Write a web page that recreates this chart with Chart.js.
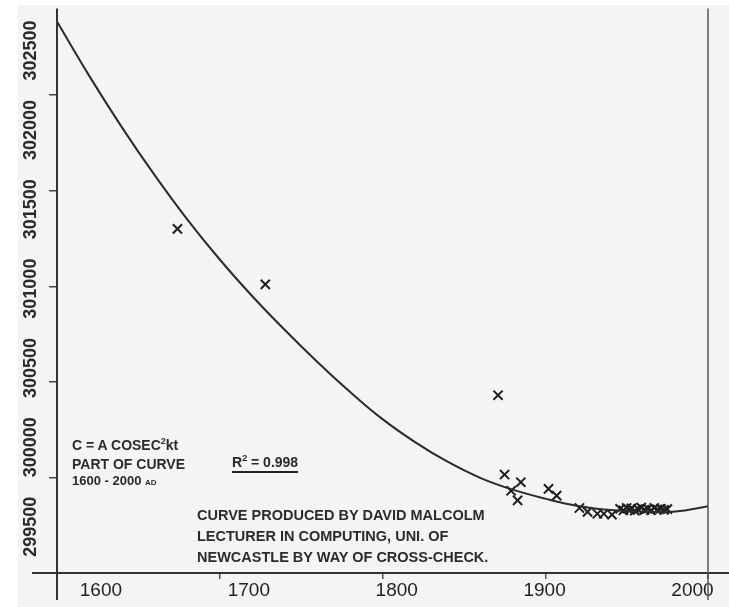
<!DOCTYPE html>
<html>
<head>
<meta charset="utf-8">
<title>C = A cosec²kt, 1600 - 2000 AD</title>
<script src="https://cdn.jsdelivr.net/npm/chart.js@4.4.1/dist/chart.umd.min.js"></script>
<style>
  html, body { margin: 0; padding: 0; background: #ffffff; }
  #wrap { position: relative; width: 729px; height: 607px; overflow: hidden; }
  #paper { position: absolute; left: 18px; top: 5px; right: 0; bottom: 0; background: #f4f4f4; }
  #lightChart { position: absolute; left: 0; top: 0; }
  .note {
    position: absolute;
    font-family: "Liberation Sans", Arial, sans-serif;
    font-weight: bold;
    color: #2b2b2b;
    white-space: nowrap;
  }
  .note sup { font-size: 9px; vertical-align: 0; position: relative; top: -6px; }
  .note small { font-size: 8px; }
  .rsq { border-bottom: 2.5px solid #222; padding-bottom: 1px; }
</style>
</head>
<body>
<div id="wrap">
  <div id="paper"></div>
  <canvas id="lightChart" width="729" height="607"></canvas>

  <div class="note" style="left:72px; top:437px; font-size:14px; line-height:16.5px;">
    C = A COSEC<sup>2</sup>kt<br>PART OF CURVE<br><span style="font-size:13px">1600 - 2000 <small>AD</small></span>
  </div>
  <div class="note" style="left:232px; top:453.5px; font-size:14px; line-height:16.5px;">
    <span class="rsq">R<sup>2</sup> = 0.998</span>
  </div>
  <div class="note" style="left:197px; top:505px; font-size:14.5px; line-height:21px;">
    CURVE PRODUCED BY DAVID MALCOLM<br>LECTURER IN COMPUTING, UNI. OF<br>NEWCASTLE BY WAY OF CROSS-CHECK.
  </div>
</div>

<script>
// fitted curve, every 20 years
const curveYears = [1600, 1620, 1640, 1660, 1680, 1700, 1720, 1740, 1760, 1780, 1800,
  1820, 1840, 1860, 1880, 1900, 1920, 1940, 1960, 1980, 2000];
const curveValues = [302385, 302098, 301830, 301581, 301350, 301140, 300948, 300771, 300604,
  300448, 300305, 300185, 300082, 299998, 299936, 299889, 299851, 299830, 299821, 299822, 299849];

// measured values (the crosses)
const obsYears = [1674, 1728, 1871, 1875, 1879, 1883, 1885, 1902, 1907, 1921, 1926, 1932,
  1936, 1941, 1946, 1948, 1950, 1952, 1953, 1955, 1957, 1959, 1961, 1963, 1965, 1967,
  1969, 1971, 1973, 1975];
const obsValues = [301300, 301010, 300430, 300015, 299930, 299880, 299975, 299940, 299905,
  299840, 299820, 299810, 299810, 299805, 299836, 299828, 299840, 299830, 299838, 299826,
  299834, 299842, 299830, 299836, 299828, 299840, 299832, 299836, 299830, 299834];

const xTickValues = [1600, 1700, 1800, 1900, 2000];
const yTickValues = [299500, 300000, 300500, 301000, 301500, 302000, 302500];

document.addEventListener("DOMContentLoaded", function () {
  const ctx = document.getElementById("lightChart").getContext("2d");

  const toPoints = (xs, ys) => xs.map((x, i) => ({ x: x, y: ys[i] }));
  const tickList = (values) => (axis) => {
    axis.ticks = values
      .filter((v) => v >= axis.min && v <= axis.max)
      .map((v) => ({ value: v }));
  };
  const noPad = (axis) => {
    axis.paddingTop = 0;
    axis.paddingBottom = 0;
    axis.paddingLeft = 0;
    axis.paddingRight = 0;
  };

  // axis lines of the original run past the plot corners
  const frameLines = {
    id: "frameLines",
    afterDraw(chart) {
      const c = chart.ctx;
      const a = chart.chartArea;
      c.save();
      c.strokeStyle = "#333";
      c.lineWidth = 2;
      c.beginPath();
      c.moveTo(32, a.bottom);
      c.lineTo(chart.width, a.bottom);
      c.moveTo(a.left, a.top);
      c.lineTo(a.left, a.bottom + 27);
      c.stroke();
      c.strokeStyle = "#555";
      c.lineWidth = 1.5;
      c.beginPath();
      c.moveTo(a.right, a.top);
      c.lineTo(a.right, a.bottom + 27);
      c.stroke();
      c.restore();
    },
  };

  const data = {
    datasets: [
      {
        label: "Curve",
        data: toPoints(curveYears, curveValues),
        showLine: true,
        borderColor: "#2b2b2b",
        borderWidth: 2,
        pointRadius: 0,
        tension: 0.4,
        xAxisID: "x",
        yAxisID: "y",
      },
      {
        label: "Measurements",
        data: toPoints(obsYears, obsValues),
        showLine: false,
        pointStyle: "crossRot",
        pointRadius: 6.5,
        borderColor: "#1e1e1e",
        borderWidth: 2,
        xAxisID: "x",
        yAxisID: "y",
      },
    ],
  };

  const config = {
    type: "scatter",
    data: data,
    plugins: [frameLines],
    options: {
      responsive: false,
      animation: false,
      devicePixelRatio: 1,
      layout: { padding: { left: 9.4, right: 21, top: 6, bottom: 5.2 } },
      plugins: { legend: { display: false }, tooltip: { enabled: false } },
      scales: {
        x: {
          type: "linear",
          position: "bottom",
          min: 1600,
          max: 2000,
          afterBuildTicks: tickList(xTickValues),
          ticks: { display: false },
          grid: { drawOnChartArea: false, tickLength: 6, color: "#555", lineWidth: 1.5 },
          border: { display: false },
        },
        // the printed year labels sit a little off their tick marks
        xLab: {
          axis: "x",
          type: "linear",
          position: "bottom",
          weight: 1,
          min: 1570.3,
          max: 2010.5,
          afterBuildTicks: tickList(xTickValues),
          afterFit: noPad,
          ticks: {
            autoSkip: false,
            maxRotation: 0,
            padding: 0,
            color: "#222",
            font: { family: "'Liberation Sans', Arial, sans-serif", size: 19 },
            callback: (v) => String(v),
          },
          grid: { display: false, drawTicks: false },
          border: { display: false },
        },
        y: {
          type: "linear",
          position: "left",
          min: 299500,
          max: 302453,
          afterBuildTicks: tickList(yTickValues),
          ticks: { display: false },
          grid: { drawOnChartArea: false, tickLength: 8, color: "#444", lineWidth: 1.5 },
          border: { display: false },
        },
        // same for the rotated value labels
        yLab: {
          axis: "y",
          type: "linear",
          position: "left",
          weight: 1,
          min: 299208,
          max: 302765,
          afterBuildTicks: tickList(yTickValues),
          afterFit: (axis) => {
            noPad(axis);
            axis.width = 39.6;
          },
          ticks: {
            autoSkip: false,
            minRotation: 90,
            maxRotation: 90,
            padding: 18,
            labelOffset: -30,
            color: "#2b2b2b",
            font: { family: "'Liberation Sans', Arial, sans-serif", size: 18, weight: "bold" },
            callback: (v) => String(v),
          },
          grid: { display: false, drawTicks: false },
          border: { display: false },
        },
      },
    },
  };

  const lightChart = new Chart(ctx, config);
});
</script>
</body>
</html>
